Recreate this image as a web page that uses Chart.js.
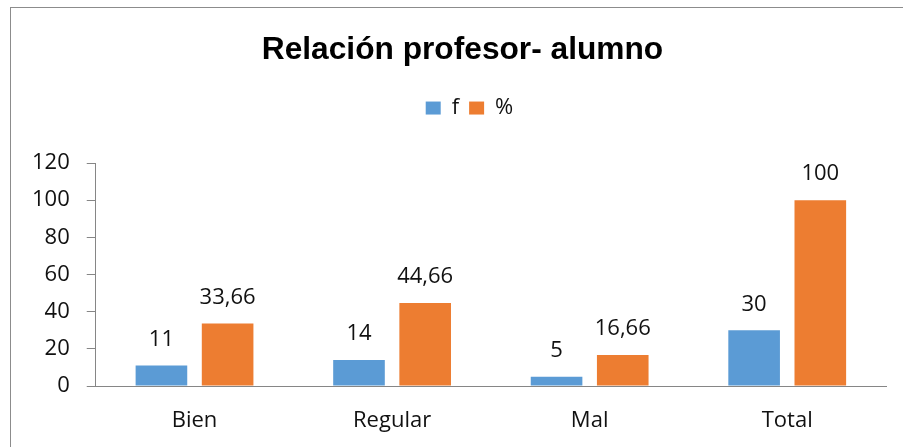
<!DOCTYPE html>
<html>
<head>
<meta charset="utf-8">
<script src="https://cdn.jsdelivr.net/npm/chart.js@4.4.1/dist/chart.umd.min.js"></script>
<style>
  html, body { margin: 0; padding: 0; background: #fff; }
  #wrap { position: relative; width: 903px; height: 447px; overflow: hidden; }
  #frame { position: absolute; left: 10px; top: 7px; width: 1000px; height: 1000px; border: 1px solid #8c8c8c; box-sizing: border-box; }
  #chart { position: absolute; left: 0; top: 0; }
</style>
</head>
<body>
<div id="wrap">
  <div id="frame"></div>
  <canvas id="chart" width="903" height="447"></canvas>
</div>
<script>
  var categorias = ['Bien', 'Regular', 'Mal', 'Total'];
  var frecuencia = [11, 14, 5, 30];
  var porcentaje = [33.66, 44.66, 16.66, 100];
  var yTicks = [0, 20, 40, 60, 80, 100, 120];

  var fuente = "'Open Sans', 'DejaVu Sans', sans-serif";
  var gris = '#868686';

  // legend gets extra room below so the plot starts lower
  var espacioLeyenda = {
    id: 'espacioLeyenda',
    beforeInit: function (chart) {
      var fit = chart.legend.fit;
      chart.legend.fit = function () {
        fit.bind(chart.legend)();
        this.height += 34;
      };
    }
  };

  // the original frame is wider than the picture, so title/legend sit right of centre
  var desplazar = {
    id: 'desplazar',
    afterLayout: function (chart) {
      chart.titleBlock.left += 12; chart.titleBlock.right += 12;
      chart.legend.left += 19; chart.legend.right += 19;
    }
  };

  // value labels above each bar
  var etiquetas = {
    id: 'etiquetas',
    afterDatasetsDraw: function (chart) {
      var ctx = chart.ctx;
      ctx.save();
      ctx.font = '22px ' + fuente;
      ctx.fillStyle = '#111';
      ctx.textAlign = 'center';
      ctx.textBaseline = 'middle';
      chart.data.datasets.forEach(function (ds, i) {
        chart.getDatasetMeta(i).data.forEach(function (bar, j) {
          ctx.fillText(String(ds.data[j]).replace('.', ','), bar.x, bar.y - 26);
        });
      });
      ctx.restore();
    }
  };

  new Chart(document.getElementById('chart').getContext('2d'), {
    type: 'bar',
    data: {
      labels: categorias,
      datasets: [
        { label: 'f', data: frecuencia, backgroundColor: '#5B9BD5' },
        { label: '%', data: porcentaje, backgroundColor: '#ED7D31' }
      ]
    },
    options: {
      responsive: false,
      animation: false,
      categoryPercentage: 0.67,
      barPercentage: 0.78,
      layout: { padding: { left: 15, right: 17, top: 0, bottom: 0 } },
      plugins: {
        title: {
          display: true,
          text: 'Relación profesor- alumno',
          color: '#000',
          font: { family: "'Liberation Sans', Arial, sans-serif", size: 31.7, weight: 'bold' },
          padding: { top: 31, bottom: 18 }
        },
        legend: {
          display: true,
          labels: {
            color: '#111',
            font: { family: fuente, size: 22 },
            boxWidth: 15,
            boxHeight: 13,
            padding: 10
          }
        },
        tooltip: { enabled: false }
      },
      scales: {
        x: {
          grid: { display: false, drawTicks: false },
          border: { display: true, color: gris, width: 1 },
          ticks: { color: '#111', font: { family: fuente, size: 22 }, padding: 22 },
          afterFit: function (scale) { scale.height = 61; }
        },
        y: {
          min: 0,
          max: 120,
          afterBuildTicks: function (scale) { scale.ticks = yTicks.map(function (v) { return { value: v }; }); },
          grid: { display: true, drawOnChartArea: false, drawTicks: true, tickLength: 9, color: gris },
          border: { display: true, color: gris, width: 1 },
          ticks: { color: '#111', font: { family: fuente, size: 22 }, padding: 17 }
        }
      }
    },
    plugins: [espacioLeyenda, desplazar, etiquetas]
  });
</script>
</body>
</html>
